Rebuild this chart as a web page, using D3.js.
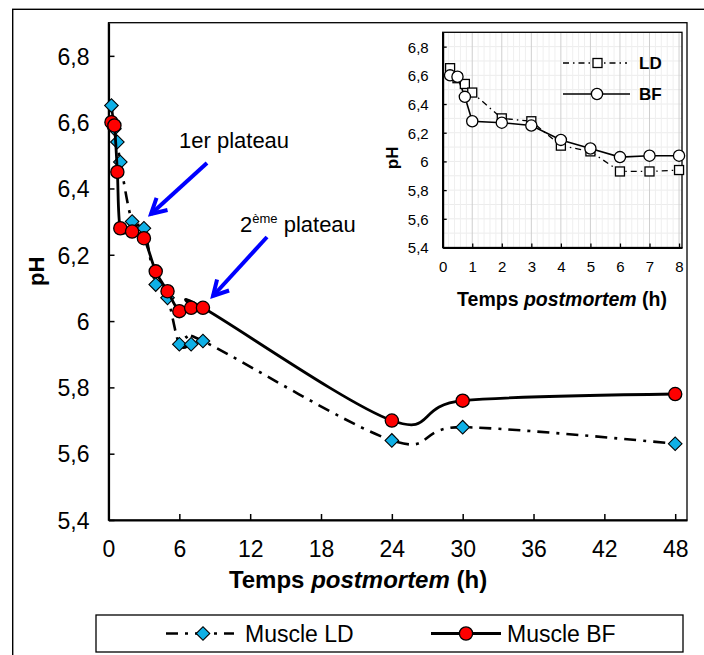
<!DOCTYPE html>
<html>
<head>
<meta charset="utf-8">
<script src="https://cdn.jsdelivr.net/npm/d3@7"></script>
<style>
  body { margin: 0; background: #fff; }
  text { font-family: "Liberation Sans", Arial, sans-serif; }
</style>
</head>
<body>
<div id="chart"></div>
<script>
// data (time post mortem in h, pH)
const hours = [0.25, 0.5, 0.75, 1, 2, 3, 4, 5, 6, 7, 8, 24, 30, 48];
const ldPH = [6.65, 6.58, 6.54, 6.48, 6.30, 6.28, 6.11, 6.07, 5.93, 5.93, 5.94, 5.64, 5.68, 5.63];
const bfPH = [6.60, 6.59, 6.45, 6.28, 6.27, 6.25, 6.15, 6.09, 6.03, 6.04, 6.04, 5.70, 5.76, 5.78];
const xTicks = [0, 6, 12, 18, 24, 30, 36, 42, 48];
const yTicks = [5.4, 5.6, 5.8, 6.0, 6.2, 6.4, 6.6, 6.8];
const insetXTicks = [0, 1, 2, 3, 4, 5, 6, 7, 8];
const seriesNames = ["Muscle LD", "Muscle BF"];
const insetNames = ["LD", "BF"];

const W = 704, H = 655;
const fmt = v => (Math.abs(v - Math.round(v)) < 1e-9 ? String(Math.round(v)) : d3.format(".1f")(v).replace(".", ","));

const svg = d3.select("#chart").append("svg")
  .attr("width", W).attr("height", H);

// outer chart frame (right / bottom run off the picture)
svg.append("rect")
  .attr("x", 12.7).attr("y", 9.3).attr("width", 720).attr("height", 700)
  .attr("fill", "#fff").attr("stroke", "#000").attr("stroke-width", 1.4);

// ---------- main chart ----------
const x = d3.scaleLinear().domain([0, 49]).range([108.5, 687]);
const y = d3.scaleLinear().domain([5.4, 6.9]).range([520, 22.7]);

svg.append("rect")
  .attr("x", x(0)).attr("y", y(6.9))
  .attr("width", x(49) - x(0)).attr("height", y(5.4) - y(6.9))
  .attr("fill", "none").attr("stroke", "#000").attr("stroke-width", 1.3);

const gx = svg.append("g").attr("transform", `translate(0,${y(5.4)})`)
  .call(d3.axisBottom(x).tickValues(xTicks).tickFormat(fmt).tickSizeInner(-6).tickSizeOuter(0).tickPadding(21));
const gy = svg.append("g").attr("transform", `translate(${x(0)},0)`)
  .call(d3.axisLeft(y).tickValues(yTicks).tickFormat(fmt).tickSizeInner(-6).tickSizeOuter(0).tickPadding(19));
[gx, gy].forEach(g => {
  g.select(".domain").attr("stroke-width", 2.2);
  g.selectAll(".tick line").attr("stroke-width", 1.5);
  g.selectAll("text").attr("font-size", 23).attr("fill", "#000")
    .style("font-family", "'Liberation Sans', Arial, sans-serif");
});
gy.selectAll("text").attr("dy", "0.36em");

svg.append("text")
  .attr("transform", `translate(44,${(y(6.9) + y(5.4)) / 2}) rotate(-90)`)
  .attr("text-anchor", "middle").attr("font-size", 22).attr("font-weight", "bold")
  .text("pH");

const xt = svg.append("text").attr("x", 358).attr("y", 588)
  .attr("text-anchor", "middle").attr("font-size", 24).attr("font-weight", "bold");
xt.append("tspan").text("Temps ");
xt.append("tspan").attr("font-style", "italic").text("postmortem");
xt.append("tspan").text(" (h)");

const smooth = d3.line().curve(d3.curveCatmullRom.alpha(0))
  .x(d => x(d[0])).y(d => y(d[1]));
const ldPts = hours.map((h, i) => [h, ldPH[i]]);
const bfPts = hours.map((h, i) => [h, bfPH[i]]);
const ldDash = "12,7,3,7";

svg.append("path").attr("d", smooth(ldPts))
  .attr("fill", "none").attr("stroke", "#000").attr("stroke-width", 2.6)
  .attr("stroke-dasharray", ldDash);
const diamond = d3.symbol().type(d3.symbolSquare).size(92);
svg.selectAll(".ld").data(ldPts).enter().append("path")
  .attr("d", diamond)
  .attr("transform", d => `translate(${x(d[0])},${y(d[1])}) rotate(45)`)
  .attr("fill", "#0fb0e6").attr("stroke", "#000").attr("stroke-width", 1.1);

svg.append("path").attr("d", smooth(bfPts))
  .attr("fill", "none").attr("stroke", "#000").attr("stroke-width", 2.8);
svg.selectAll(".bf").data(bfPts).enter().append("circle")
  .attr("cx", d => x(d[0])).attr("cy", d => y(d[1])).attr("r", 6.6)
  .attr("fill", "#ff0000").attr("stroke", "#000").attr("stroke-width", 1.3);

// annotations
function arrow(x1, y1, x2, y2) {
  const a = Math.atan2(y2 - y1, x2 - x1), L = 17, s = 0.5;
  svg.append("line").attr("x1", x1).attr("y1", y1).attr("x2", x2).attr("y2", y2)
    .attr("stroke", "#0000ff").attr("stroke-width", 4);
  const p1 = [x2 - L * Math.cos(a - s), y2 - L * Math.sin(a - s)];
  const p2 = [x2 - L * Math.cos(a + s), y2 - L * Math.sin(a + s)];
  svg.append("path").attr("d", `M${p1}L${x2},${y2}L${p2}`)
    .attr("fill", "none").attr("stroke", "#0000ff").attr("stroke-width", 4)
    .attr("stroke-linejoin", "miter");
}
svg.append("text").attr("x", 179).attr("y", 148).attr("font-size", 22).text("1er plateau");
arrow(207, 163, 151, 214);
const t2 = svg.append("text").attr("x", 240).attr("y", 232).attr("font-size", 22);
t2.append("tspan").text("2");
t2.append("tspan").attr("font-size", 13).attr("dy", -9).text("ème");
t2.append("tspan").attr("dy", 9).text(" plateau");
arrow(267, 237, 213, 296);

// legend
svg.append("rect").attr("x", 96).attr("y", 615).attr("width", 587).attr("height", 37)
  .attr("fill", "#fff").attr("stroke", "#000").attr("stroke-width", 1.3);
const ly = 633.5;
svg.append("line").attr("x1", 166).attr("x2", 234).attr("y1", ly).attr("y2", ly)
  .attr("stroke", "#000").attr("stroke-width", 2.6).attr("stroke-dasharray", ldDash);
svg.append("path").attr("d", diamond)
  .attr("transform", `translate(203,${ly}) rotate(45)`)
  .attr("fill", "#0fb0e6").attr("stroke", "#000").attr("stroke-width", 1.1);
svg.append("text").attr("x", 245).attr("y", ly).attr("dy", "0.36em").attr("font-size", 23).text(seriesNames[0]);
svg.append("line").attr("x1", 431).attr("x2", 501).attr("y1", ly).attr("y2", ly)
  .attr("stroke", "#000").attr("stroke-width", 2.8);
svg.append("circle").attr("cx", 466).attr("cy", ly).attr("r", 6.6)
  .attr("fill", "#ff0000").attr("stroke", "#000").attr("stroke-width", 1.3);
svg.append("text").attr("x", 507).attr("y", ly).attr("dy", "0.36em").attr("font-size", 23).text(seriesNames[1]);

// ---------- inset (0 - 8 h) ----------
const ix = d3.scaleLinear().domain([0, 8.1]).range([442.7, 682]);
const iy = d3.scaleLinear().domain([5.4, 6.9]).range([247.5, 32.3]);
const inset = svg.append("g");

inset.append("rect").attr("x", ix(0)).attr("y", iy(6.9))
  .attr("width", ix(8.1) - ix(0)).attr("height", iy(5.4) - iy(6.9)).attr("fill", "#fff");
inset.selectAll(".hg").data(d3.range(55, 69).map(v => v / 10)).enter().append("line")
  .attr("x1", ix(0)).attr("x2", ix(8.1)).attr("y1", d => iy(d)).attr("y2", d => iy(d))
  .attr("stroke", "#ececec").attr("stroke-width", 1);
inset.selectAll(".vg").data(d3.range(1, 41).map(v => v / 5)).enter().append("line")
  .attr("y1", iy(5.4)).attr("y2", iy(6.9)).attr("x1", d => ix(d)).attr("x2", d => ix(d))
  .attr("stroke", d => (Math.abs(d - Math.round(d)) < 1e-9 ? "#cfcfcf" : "#efefef"))
  .attr("stroke-width", 1);
inset.append("rect").attr("x", ix(0)).attr("y", iy(6.9))
  .attr("width", ix(8.1) - ix(0)).attr("height", iy(5.4) - iy(6.9))
  .attr("fill", "none").attr("stroke", "#000").attr("stroke-width", 1.3);

const igx = inset.append("g").attr("transform", `translate(0,${iy(5.4)})`)
  .call(d3.axisBottom(ix).tickValues(insetXTicks).tickFormat(fmt).tickSizeInner(-4).tickSizeOuter(0).tickPadding(14));
const igy = inset.append("g").attr("transform", `translate(${ix(0)},0)`)
  .call(d3.axisLeft(iy).tickValues(yTicks).tickFormat(fmt).tickSizeInner(-4).tickSizeOuter(0).tickPadding(14));
[igx, igy].forEach(g => {
  g.select(".domain").attr("stroke-width", 2);
  g.selectAll(".tick line").attr("stroke-width", 1.3);
  g.selectAll("text").attr("font-size", 15).attr("fill", "#000")
    .style("font-family", "'Liberation Sans', Arial, sans-serif");
});
igy.selectAll("text").attr("dy", "0.36em");

inset.append("text")
  .attr("transform", `translate(398,${(iy(6.9) + iy(5.4)) / 2 + 18}) rotate(-90)`)
  .attr("text-anchor", "middle").attr("font-size", 17).attr("font-weight", "bold").text("pH");
const ixt = inset.append("text").attr("x", 562).attr("y", 306)
  .attr("text-anchor", "middle").attr("font-size", 19.5).attr("font-weight", "bold");
ixt.append("tspan").text("Temps ");
ixt.append("tspan").attr("font-style", "italic").text("postmortem");
ixt.append("tspan").text(" (h)");

const straight = d3.line().x(d => ix(d[0])).y(d => iy(d[1]));
const ldIn = ldPts.filter(d => d[0] <= 8);
const bfIn = bfPts.filter(d => d[0] <= 8);
const inDash = "6,4,1.5,4";
inset.append("path").attr("d", straight(ldIn))
  .attr("fill", "none").attr("stroke", "#000").attr("stroke-width", 1.3).attr("stroke-dasharray", inDash);
inset.append("path").attr("d", straight(bfIn))
  .attr("fill", "none").attr("stroke", "#000").attr("stroke-width", 1.6);
inset.selectAll(".lds").data(ldIn).enter().append("rect")
  .attr("x", d => ix(d[0]) - 4.5).attr("y", d => iy(d[1]) - 4.5)
  .attr("width", 9).attr("height", 9)
  .attr("fill", "#fff").attr("stroke", "#000").attr("stroke-width", 1.3);
inset.selectAll(".bfc").data(bfIn).enter().append("circle")
  .attr("cx", d => ix(d[0])).attr("cy", d => iy(d[1])).attr("r", 5.6)
  .attr("fill", "#fff").attr("stroke", "#000").attr("stroke-width", 1.3);

// inset legend
inset.append("line").attr("x1", 563).attr("x2", 627).attr("y1", 63).attr("y2", 63)
  .attr("stroke", "#000").attr("stroke-width", 1.3).attr("stroke-dasharray", inDash);
inset.append("rect").attr("x", 593).attr("y", 58.5).attr("width", 9).attr("height", 9)
  .attr("fill", "#fff").attr("stroke", "#000").attr("stroke-width", 1.3);
inset.append("text").attr("x", 639).attr("y", 63).attr("dy", "0.36em")
  .attr("font-size", 17).attr("font-weight", "bold").text(insetNames[0]);
inset.append("line").attr("x1", 563).attr("x2", 630).attr("y1", 94).attr("y2", 94)
  .attr("stroke", "#000").attr("stroke-width", 1.6);
inset.append("circle").attr("cx", 597).attr("cy", 94).attr("r", 5.6)
  .attr("fill", "#fff").attr("stroke", "#000").attr("stroke-width", 1.3);
inset.append("text").attr("x", 639).attr("y", 94).attr("dy", "0.36em")
  .attr("font-size", 17).attr("font-weight", "bold").text(insetNames[1]);
</script>
</body>
</html>
